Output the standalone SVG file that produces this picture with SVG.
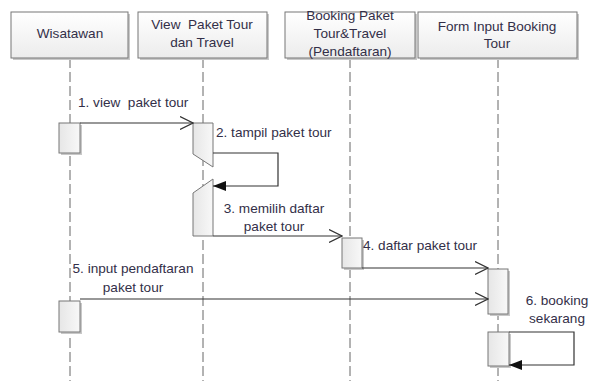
<svg xmlns="http://www.w3.org/2000/svg" width="590" height="381" viewBox="0 0 590 381">
<defs>
<linearGradient id="hg" x1="0" y1="0" x2="0" y2="1"><stop offset="0" stop-color="#ffffff"/><stop offset="1" stop-color="#ececec"/></linearGradient>
<linearGradient id="ag" x1="0" y1="0" x2="1" y2="0"><stop offset="0" stop-color="#e6e6e6"/><stop offset="1" stop-color="#f8f8f8"/></linearGradient>
<marker id="open" markerWidth="14" markerHeight="14" refX="13" refY="7" orient="auto" markerUnits="userSpaceOnUse"><path d="M0,0.5 L13,7 L0,13.5" fill="none" stroke="#333" stroke-width="1.2"/></marker>
<marker id="fill" markerWidth="14" markerHeight="10" refX="13" refY="5" orient="auto" markerUnits="userSpaceOnUse"><path d="M0,0 L13,5 L0,10 z" fill="#111"/></marker>
</defs>
<style>
.hdr{fill:url(#hg);stroke:#777;stroke-width:1}
.sh{fill:#c8c8c8;stroke:none}
.act{fill:url(#ag);stroke:#777;stroke-width:1}
.life{stroke:#666;stroke-width:1;stroke-dasharray:10,4;fill:none}
.msg{stroke:#333;stroke-width:1.2;fill:none}
text{font-family:"Liberation Sans",Arial,sans-serif;font-size:13.6px;fill:#332f48}
.c{text-anchor:middle}
</style>
<rect width="590" height="381" fill="#ffffff"/>
<g id="lifelines">
<line class="life" x1="70" y1="58" x2="70" y2="381"/>
<line class="life" x1="203" y1="58" x2="203" y2="381"/>
<line class="life" x1="350" y1="58" x2="350" y2="381"/>
<line class="life" x1="498" y1="58" x2="498" y2="381"/>
</g>
<g id="wisatawan">
<rect class="sh" x="13" y="14" width="117" height="46"/>
<rect class="hdr" x="11" y="12" width="117" height="46"/>
<text class="c" x="70" y="38">Wisatawan</text>
</g>
<g id="view">
<rect class="sh" x="140" y="14" width="129" height="46"/>
<rect class="hdr" x="138" y="12" width="129" height="46"/>
<text class="c" x="202" y="29">View&#160; Paket Tour</text>
<text class="c" x="202" y="47">dan Travel</text>
</g>
<g id="booking">
<rect class="sh" x="287" y="14" width="130" height="46"/>
<rect class="hdr" x="285" y="12" width="130" height="46"/>
<text class="c" x="350" y="20">Booking Paket</text>
<text class="c" x="350" y="38">Tour&amp;Travel</text>
<text class="c" x="350" y="56">(Pendaftaran)</text>
</g>
<g id="form">
<rect class="sh" x="420" y="14" width="159" height="46"/>
<rect class="hdr" x="418" y="12" width="159" height="46"/>
<text class="c" x="497" y="31">Form Input Booking</text>
<text class="c" x="497" y="48">Tour</text>
</g>
<g id="activations">
<rect class="sh" x="61" y="125" width="21" height="30"/>
<rect class="act" x="59" y="123" width="21" height="30"/>
<polygon class="act" points="193,123 213,123 213,167 193,154"/>
<polygon class="act" points="193,193 213,179 213,236 193,236"/>
<rect class="sh" x="344" y="240" width="20" height="30"/>
<rect class="act" x="342" y="238" width="20" height="30"/>
<rect class="sh" x="490" y="271" width="20" height="45"/>
<rect class="act" x="488" y="269" width="20" height="45"/>
<rect class="sh" x="61" y="303" width="21" height="31"/>
<rect class="act" x="59" y="301" width="21" height="31"/>
<rect class="sh" x="490" y="334" width="21" height="34"/>
<rect class="act" x="488" y="332" width="21" height="34"/>
</g>
<g id="connectors">
<line class="msg" x1="80" y1="123" x2="193" y2="123" marker-end="url(#open)"/>
<polyline class="msg" points="213,153 278,153 278,186 213,186" marker-end="url(#fill)"/>
<line class="msg" x1="213" y1="236" x2="342" y2="236" marker-end="url(#open)"/>
<line class="msg" x1="362" y1="268" x2="488" y2="268" marker-end="url(#open)"/>
<line class="msg" x1="80" y1="299" x2="488" y2="299" marker-end="url(#open)"/>
<polyline class="msg" points="509,332 574,332 574,365 509,365" marker-end="url(#fill)"/>
</g>
<g id="labels">
<text x="78" y="107">1. view&#160; paket tour</text>
<text x="216" y="137">2. tampil paket tour</text>
<text class="c" x="274" y="213">3. memilih daftar</text>
<text class="c" x="274" y="231">paket tour</text>
<text x="363" y="250">4. daftar paket tour</text>
<text class="c" x="133" y="273">5. input pendaftaran</text>
<text class="c" x="133" y="292">paket tour</text>
<text class="c" x="557" y="305">6. booking</text>
<text class="c" x="557" y="323">sekarang</text>
</g>
</svg>
